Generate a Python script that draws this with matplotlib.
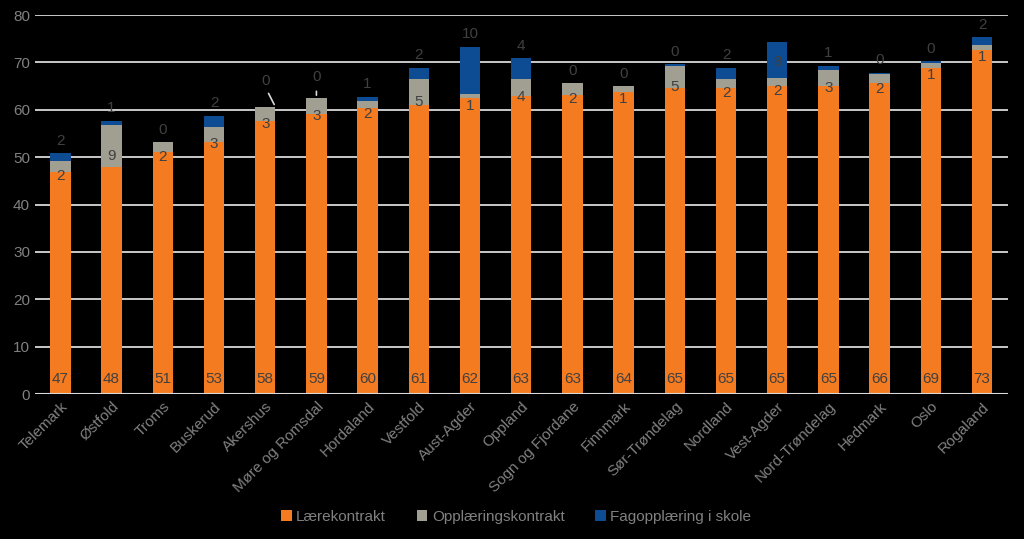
import matplotlib.pyplot as plt
import numpy as np

# Data
fylker = ['Telemark', 'Østfold', 'Troms', 'Buskerud', 'Akershus', 'Møre og Romsdal',
          'Hordaland', 'Vestfold', 'Aust-Agder', 'Oppland', 'Sogn og Fjordane',
          'Finnmark', 'Sør-Trøndelag', 'Nordland', 'Vest-Agder', 'Nord-Trøndelag',
          'Hedmark', 'Oslo', 'Rogaland']
laerekontrakt = [46.8, 47.9, 51.1, 53.2, 57.7, 59.2, 60.4, 61.1, 62.4, 62.9,
                 63.2, 63.7, 64.6, 64.7, 65.1, 65.0, 65.6, 68.8, 72.6]
opplaering = [2.4, 9.0, 2.1, 3.1, 2.8, 3.2, 1.5, 5.4, 0.9, 3.7,
              2.4, 1.3, 4.7, 1.9, 1.7, 3.4, 1.9, 1.1, 1.0]
fag_skole = [1.6, 0.8, 0.0, 2.4, 0.1, 0.1, 0.9, 2.4, 10.0, 4.3,
             0.0, 0.0, 0.3, 2.3, 7.6, 0.9, 0.3, 0.4, 1.7]

c_orange = '#F57B20'
c_grey = '#A19E92'
c_blue = '#0D4C92'
c_label = '#404040'
c_text = '#808080'

plt.rcParams['font.family'] = ['Liberation Sans', 'DejaVu Sans']

fig = plt.figure(figsize=(10.24, 5.39), dpi=100, facecolor='black')
ax = fig.add_axes([0.034, 0.269, 0.950, 0.703])
ax.set_facecolor('black')

x = np.arange(len(fylker))
a = np.array(laerekontrakt)
b = np.array(opplaering)
c = np.array(fag_skole)
w = 0.4

ax.bar(x, a, w, color=c_orange, label='Lærekontrakt', zorder=3)
ax.bar(x, b, w, bottom=a, color=c_grey, label='Opplæringskontrakt', zorder=3)
ax.bar(x, c, w, bottom=a + b, color=c_blue, label='Fagopplæring i skole', zorder=3)

lbl = dict(ha='center', va='center', color=c_label, fontsize=11, zorder=4,
           textcoords='offset points')

# Data labels
for i, name in enumerate(fylker):
    top = a[i] + b[i] + c[i]
    ax.annotate(f'{a[i]:.0f}', (x[i], 0), xytext=(0, 11), **lbl)
    ax.annotate(f'{b[i]:.0f}', (x[i], a[i] + b[i] / 2), xytext=(0, -7), **lbl)
    if name == 'Akershus':
        # label moved up with a leader line to the bar corner
        ax.annotate(f'{c[i]:.0f}', (x[i], top), xytext=(0, 19), **lbl)
        ax.annotate('', (x[i] + w / 2, top), xytext=(x[i] + 0.04, top + 3.4),
                    arrowprops=dict(arrowstyle='-', color='#D9D9D9', lw=1.2), zorder=4)
    elif name == 'Møre og Romsdal':
        ax.annotate(f'{c[i]:.0f}', (x[i], top), xytext=(0, 15), **lbl)
        ax.annotate('', (x[i], top), xytext=(x[i], top + 2),
                    arrowprops=dict(arrowstyle='-', color='#D9D9D9', lw=1.2), zorder=4)
    elif name == 'Vest-Agder':
        ax.annotate(f'{c[i]:.0f}', (x[i], top), xytext=(0, -15), **lbl)
    else:
        ax.annotate(f'{c[i]:.0f}', (x[i], top), xytext=(0, 9), **lbl)

ax.set_xlim(-0.5, len(x) - 0.5)
ax.set_ylim(0, 80)
ax.set_yticks(range(0, 81, 10))
ax.grid(axis='y', color='#D9D9D9', linewidth=1.3, zorder=0)
ax.axhline(0, color='#D9D9D9', linewidth=1.5, zorder=5)
for s in ax.spines.values():
    s.set_visible(False)
ax.tick_params(axis='both', length=0, colors=c_text, labelsize=11)
ax.tick_params(axis='x', pad=4)
ax.set_xticks(x)
ax.set_xticklabels(fylker, rotation=45, ha='right', rotation_mode='anchor', color=c_text)

leg = fig.legend(loc='center', bbox_to_anchor=(0.504, 0.041), ncol=3, frameon=False,
                 fontsize=11, handlelength=0.7, handleheight=0.7, handletextpad=0.3,
                 columnspacing=2.0)
for t in leg.get_texts():
    t.set_color(c_text)

fig.savefig('out.png', dpi=100, facecolor='black')
